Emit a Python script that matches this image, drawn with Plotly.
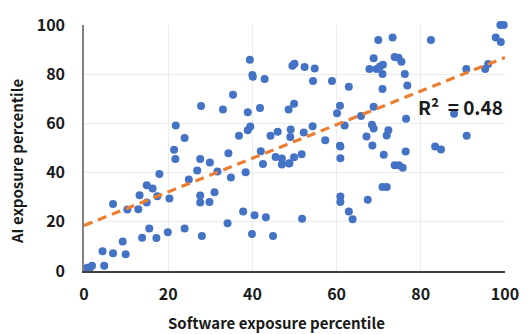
import plotly.graph_objects as go

software_pct = [27.8, 33.0, 21.8, 23.9, 21.4, 39.4, 40.0, 40.1, 42.9, 35.4, 38.9, 41.8, 39.5, 38.9, 36.8,
                44.3, 46.0, 49.1, 49.0, 52.2, 54.3, 57.3, 60.8, 49.5, 50.0, 52.4, 54.8, 54.4, 58.9, 62.9,
                49.9, 48.6, 60.8, 60.1, 61.9, 65.8, 69.9, 73.3, 82.4, 98.9, 99.7, 97.8, 99.0, 68.8, 73.8,
                74.7, 75.4, 67.8, 69.5, 70.3, 71.0, 70.9, 76.2, 76.8, 70.9, 90.8, 95.3, 96.0, 68.8, 87.9,
                76.5, 68.4, 68.8, 72.3, 71.9, 67.1, 68.5, 71.2, 76.4, 73.8, 74.8, 75.7, 90.9, 83.4, 84.8,
                60.9, 60.9, 51.7, 49.9, 48.8, 21.7, 27.6, 29.9, 26.9, 24.9, 17.9, 14.9, 16.3, 13.2, 17.4,
                20.3, 14.9, 12.9, 10.3, 6.9, 27.6, 27.6, 29.8, 31.0, 15.5, 13.8, 17.2, 19.9, 23.9, 28.0,
                9.2, 4.4, 6.9, 9.9, 4.8, 0.8, 1.9, 1.4, 0.5, 34.3, 34.9, 38.4, 42.0, 42.5, 45.5,
                47.0, 47.0, 48.7, 37.8, 40.5, 43.2, 34.1, 39.9, 44.9, 51.8, 60.9, 60.9, 62.9, 63.8, 70.9,
                71.9, 67.4, 31.7]
ai_pct = [67.1, 65.7, 59.1, 54.1, 49.3, 85.9, 79.7, 79.0, 78.0, 71.6, 64.5, 66.3, 58.7, 57.2, 55.0,
          55.0, 56.6, 57.5, 54.5, 56.3, 58.8, 53.1, 50.9, 83.4, 84.2, 82.9, 82.3, 77.2, 77.2, 74.9,
          68.0, 65.7, 67.2, 64.1, 59.1, 63.0, 93.9, 94.9, 93.9, 100.0, 100.0, 94.9, 93.1, 86.5, 87.0,
          86.7, 85.1, 82.1, 82.1, 83.1, 83.8, 80.1, 80.1, 75.4, 74.0, 82.1, 82.1, 84.1, 66.8, 63.9,
          61.9, 59.5, 57.9, 57.2, 55.1, 54.7, 51.0, 47.3, 48.6, 43.0, 43.0, 42.0, 55.0, 50.6, 49.4,
          50.6, 45.8, 47.5, 46.2, 43.8, 45.5, 45.5, 44.1, 40.9, 37.2, 39.4, 34.9, 33.5, 30.8, 30.4,
          29.5, 27.8, 25.1, 25.0, 27.2, 30.7, 27.8, 28.0, 32.0, 17.3, 13.5, 13.4, 15.8, 17.3, 14.2,
          12.0, 8.0, 7.2, 6.8, 2.1, 1.3, 2.1, 1.3, 0.8, 47.9, 38.0, 40.1, 48.7, 43.5, 46.3,
          45.7, 43.3, 43.7, 24.2, 22.7, 21.8, 19.4, 15.0, 14.2, 21.2, 30.3, 28.0, 24.2, 21.0, 34.1,
          34.1, 29.0, 40.4]

trend_x = [0, 100]
trend_y = [18.5, 86.8]
r2_label = "R²\u00a0\u00a0=\u00a00.48"
x_title = "Software exposure percentile"
y_title = "AI exposure percentile"

FONT = "Noto Sans CJK KR, Open Sans, sans-serif"
W, H = 531, 334
L, R, T, B = 84, 18, 21, 63

fig = go.Figure()
fig.add_trace(go.Scatter(x=software_pct, y=ai_pct, mode="markers",
                         marker=dict(color="#4472C4", size=8, line=dict(width=0)),
                         cliponaxis=False, showlegend=False))
fig.add_trace(go.Scatter(x=trend_x, y=trend_y, mode="lines",
                         line=dict(color="#ED7D31", width=3.2, dash="9px,6px"),
                         showlegend=False))
fig.add_annotation(x=89.5, y=66.9, text="<b>" + r2_label + "</b>", showarrow=False,
                   font=dict(family=FONT, size=19, color="#1a1a1a"))

pw, ph = W - L - R, H - T - B
fig.add_annotation(xref="paper", yref="paper", x=(280 - L) / pw, y=(H - B - 323) / ph,
                   text="<b>" + x_title + "</b>", showarrow=False, xanchor="center", yanchor="middle",
                   font=dict(family=FONT, size=15, color="#1a1a1a"))
fig.add_annotation(xref="paper", yref="paper", x=(16 - L) / pw, y=(H - B - 160) / ph,
                   text="<b>" + y_title + "</b>", showarrow=False, textangle=-90,
                   xanchor="center", yanchor="middle",
                   font=dict(family=FONT, size=15, color="#1a1a1a"))

axis_common = dict(range=[0, 100], dtick=20, showgrid=True, gridcolor="#ececec", gridwidth=1,
                   zeroline=False, showline=True, ticks="",
                   tickfont=dict(family=FONT, size=16, color="#1a1a1a", weight="bold"))
fig.update_xaxes(**axis_common, linecolor="#404040", linewidth=1.5, ticklabelstandoff=8)
fig.update_yaxes(**axis_common, linecolor="#808080", linewidth=1.5, ticklabelstandoff=14)

fig.update_layout(width=W, height=H, margin=dict(l=L, r=R, t=T, b=B),
                  paper_bgcolor="white", plot_bgcolor="white")
fig.write_html("out.html")
